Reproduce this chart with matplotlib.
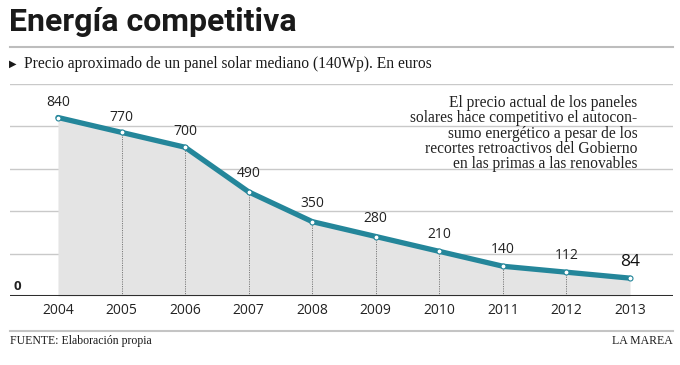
import matplotlib.pyplot as plt

years = [2004, 2005, 2006, 2007, 2008, 2009, 2010, 2011, 2012, 2013]
precio = [840, 770, 700, 490, 350, 280, 210, 140, 112, 84]
grid_vals = [200, 400, 600, 800, 1000]

nota = ("El precio actual de los paneles\n"
        "solares hace competitivo el autocon-\n"
        "sumo energético a pesar de los\n"
        "recortes retroactivos del Gobierno\n"
        "en las primas a las renovables")

W, H = 680, 365
fig = plt.figure(figsize=(6.8, 3.65), dpi=100)
fig.patch.set_facecolor("white")

# axes: pixel x 10..673, y 296 (0) .. 83.5 (1000)
ax = fig.add_axes([10 / W, (H - 296) / H, 663 / W, (296 - 83.5) / H])
ax.set_xlim(2004 - 48 / 63.6, 2013 + 43 / 63.6)
ax.set_ylim(0, 1000)
ax.axis("off")

teal = "#24869a"
for g in grid_vals:
    ax.axhline(g, color="#c9c9c9", lw=1.0, zorder=0)

ax.fill_between(years, precio, 0, color="#e4e4e4", lw=0, zorder=1)
for x, y in zip(years[1:-1], precio[1:-1]):
    ax.plot([x, x], [0, y], color="#7a7a7a", lw=0.7, ls=(0, (1.2, 1.2)), zorder=2)

ax.plot(years, precio, color=teal, lw=3.8, solid_capstyle="round", zorder=3)
ax.plot(years, precio, "o", ms=3.6, mfc="white", mec=teal, mew=0.8, zorder=4)

ax.axhline(0, color="#2e2e2e", lw=2.2, zorder=5)

# label offsets above each point, in pixels
offs = [15, 15, 16, 18, 18, 18, 17, 17, 17, 16]
for x, y, o in zip(years, precio, offs):
    big = (x == years[-1])
    ax.annotate(str(y), (x, y), xytext=(0, o * 0.72), textcoords="offset points",
                ha="center", va="center", family="Open Sans",
                fontsize=12.5 if big else 10, color="#111111" if big else "#222222",
                zorder=6)

for x in years:
    ax.text(x, -70, str(x), ha="center", va="center", family="Open Sans",
            fontsize=10, color="#222222")

ax.text(2004 - 44 / 63.6, 45, "0", ha="left", va="center", family="Open Sans",
        fontsize=9.5, fontweight="bold", color="#222222")

ax.text(2013 + 7.5 / 63.6, 945, nota, ha="right", va="top", family="Liberation Serif",
        fontsize=11.2, color="#222222", linespacing=0.93, zorder=6)

# header
fig.text(9 / W, 1 - 22 / H, "Energía competitiva", ha="left", va="center",
         family="Roboto", fontsize=23, fontweight="bold", color="#1a1a1a")
fig.add_artist(plt.Line2D([10 / W, 673 / W], [1 - 47 / H, 1 - 47 / H],
                          color="#bdbdbd", lw=1.5))
fig.text(9 / W, 1 - 64 / H, "▶", ha="left", va="center", family="DejaVu Sans",
         fontsize=7, color="#1a1a1a")
fig.text(24 / W, 1 - 64 / H, "Precio aproximado de un panel solar mediano (140Wp). En euros",
         ha="left", va="center", family="Liberation Serif", fontsize=11.2, color="#1a1a1a")

# footer
fig.add_artist(plt.Line2D([10 / W, 673 / W], [1 - 331 / H, 1 - 331 / H],
                          color="#c4c4c4", lw=1.5))
fig.text(10 / W, 1 - 341 / H, "FUENTE: Elaboración propia", ha="left", va="center",
         family="Liberation Serif", fontsize=8.5, color="#1a1a1a")
fig.text(673 / W, 1 - 341 / H, "LA MAREA", ha="right", va="center",
         family="Liberation Serif", fontsize=8.5, color="#1a1a1a")

fig.savefig("out.png", dpi=100)
